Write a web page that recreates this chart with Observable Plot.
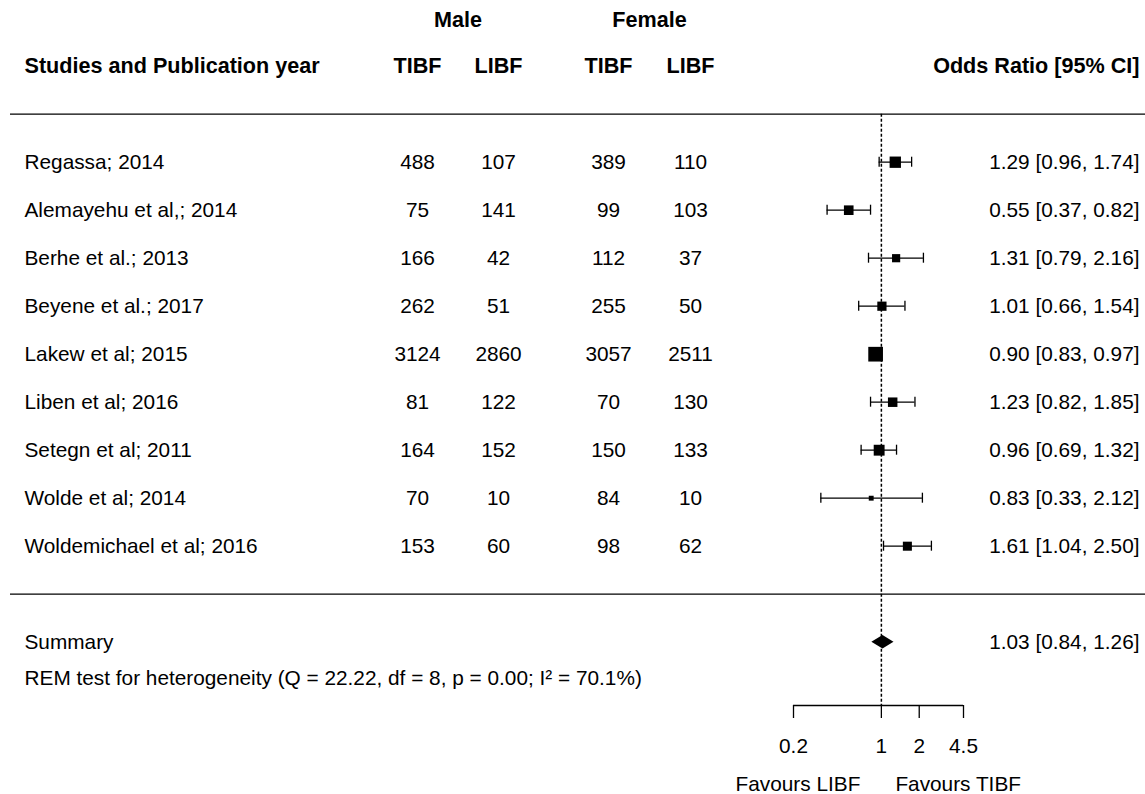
<!DOCTYPE html>
<html>
<head>
<meta charset="utf-8">
<script src="https://cdn.jsdelivr.net/npm/d3@7"></script>
<script src="https://cdn.jsdelivr.net/npm/@observablehq/plot@0.6"></script>
<style>
  html, body { margin: 0; padding: 0; background: #fff; }
  #chart svg { display: block; }
</style>
</head>
<body>
<div id="chart"></div>
<script>
// ---- data ----
const studies = ["Regassa; 2014", "Alemayehu et al,; 2014", "Berhe et al.; 2013", "Beyene et al.; 2017",
  "Lakew et al; 2015", "Liben et al; 2016", "Setegn et al; 2011", "Wolde et al; 2014", "Woldemichael et al; 2016"];
const maleTIBF   = [488, 75, 166, 262, 3124, 81, 164, 70, 153];
const maleLIBF   = [107, 141, 42, 51, 2860, 122, 152, 10, 60];
const femaleTIBF = [389, 99, 112, 255, 3057, 70, 150, 84, 98];
const femaleLIBF = [110, 103, 37, 50, 2511, 130, 133, 10, 62];
const oddsRatio  = [1.29, 0.55, 1.31, 1.01, 0.90, 1.23, 0.96, 0.83, 1.61];
const ciLower    = [0.96, 0.37, 0.79, 0.66, 0.83, 0.82, 0.69, 0.33, 1.04];
const ciUpper    = [1.74, 0.82, 2.16, 1.54, 0.97, 1.85, 1.32, 2.12, 2.50];
const weights    = [13.6, 11.0, 8.8, 10.4, 18.7, 10.8, 12.9, 3.8, 10.1]; // estimated RE weights (%)
const summary    = {label: "Summary", or: 1.03, lower: 0.84, upper: 1.26};
const hetText    = "REM test for heterogeneity (Q = 22.22, df = 8, p = 0.00; I² = 70.1%)";
const axisTicks  = [0.2, 1, 2, 4.5];
const groupHeaders  = ["Male", "Female"];
const columnHeaders = ["Studies and Publication year", "TIBF", "LIBF", "TIBF", "LIBF", "Odds Ratio [95% CI]"];
const favourLabels  = ["Favours LIBF", "Favours TIBF"];

// ---- layout ----
const W = 1145, H = 794;
const marginLeft = 793, marginRight = 182, marginBottom = 89;
const yDomain = [-2.319, 12.369];
const k = studies.length;
const colX = {study: 24, mT: 417, mL: 498, fT: 608, fL: 690, or: 1139};
const dxOf = (px) => px - marginLeft;
const fs = 20.8;
const fsBold = 21.6;
const fmt = (v) => v.toFixed(2);
const orLabel = (o, l, u) => `${fmt(o)} [${fmt(l)}, ${fmt(u)}]`;

const rows = studies.map((s, i) => ({
  row: k - i, study: s,
  mT: String(maleTIBF[i]), mL: String(maleLIBF[i]), fT: String(femaleTIBF[i]), fL: String(femaleLIBF[i]),
  or: oddsRatio[i], lo: ciLower[i], hi: ciUpper[i], w: weights[i],
  label: orLabel(oddsRatio[i], ciLower[i], ciUpper[i])
}));
const headerRow = k + 2;
const groupRow = k + 2.952;
const summaryRow = -1;
const hetRow = -1.745;
const dh = 0.14;
const diamond = [
  {y: summaryRow - dh, x1: summary.or, x2: summary.or},
  {y: summaryRow, x1: summary.lower, x2: summary.upper},
  {y: summaryRow + dh, x1: summary.or, x2: summary.or}
];

const textCol = (data, key, px, anchor, extra = {}) =>
  Plot.text(data, {y: "row", text: key, frameAnchor: "left", dx: dxOf(px), textAnchor: anchor,
    fontSize: fs, fill: "black", ...extra});
const bold = {fontWeight: "bold", fontSize: fsBold};

const headers = [{row: headerRow}];

const plot = Plot.plot({
  width: W, height: H,
  marginLeft, marginRight, marginTop: 0, marginBottom,
  style: {fontFamily: "'Liberation Sans', Arial, Helvetica, sans-serif", fontSize: fs + "px", color: "black", background: "white"},
  x: {type: "log", domain: [axisTicks[0], axisTicks[axisTicks.length - 1]], axis: null},
  y: {type: "linear", domain: yDomain, axis: null},
  r: {type: "linear", domain: [d3.min(weights), d3.max(weights)], range: [2.76, 8.29]},
  marks: [
    // horizontal separators
    Plot.ruleY([0, k + 1], {stroke: "black", strokeWidth: 1.3, insetLeft: -(marginLeft - 10), insetRight: -marginRight}),
    // reference line
    Plot.ruleX([1], {y1: k + 1, y2: yDomain[0], stroke: "black", strokeWidth: 1.5, strokeDasharray: "3,2"}),
    // CIs
    Plot.ruleY(rows, {y: "row", x1: "lo", x2: "hi", stroke: "black", strokeWidth: 1.3}),
    Plot.ruleX(rows, {x: "lo", y1: "row", y2: "row", insetTop: -5, insetBottom: -5, stroke: "black", strokeWidth: 1.3}),
    Plot.ruleX(rows, {x: "hi", y1: "row", y2: "row", insetTop: -5, insetBottom: -5, stroke: "black", strokeWidth: 1.3}),
    // squares
    Plot.dot(rows, {x: "or", y: "row", r: "w", symbol: "square", fill: "black", stroke: null}),
    // summary diamond
    Plot.areaX(diamond, {y: "y", x1: "x1", x2: "x2", fill: "black", curve: "linear"}),
    // axis
    Plot.ruleY([yDomain[0]], {x1: () => axisTicks[0], x2: () => axisTicks[axisTicks.length - 1], stroke: "black", strokeWidth: 1.3}),
    Plot.axisX({ticks: axisTicks, tickFormat: (d) => String(d), tickSize: 13, tickPadding: 20,
      stroke: "black", strokeWidth: 1.3, fontSize: fs, fill: "black"}),
    // favour labels
    Plot.text([favourLabels[0]], {x: () => 1, text: (d) => d, frameAnchor: "bottom", lineAnchor: "middle", dy: 79, dx: -21, textAnchor: "end", fontSize: fs, fill: "black"}),
    Plot.text([favourLabels[1]], {x: () => 1, text: (d) => d, frameAnchor: "bottom", lineAnchor: "middle", dy: 79, dx: 14, textAnchor: "start", fontSize: fs, fill: "black"}),
    // table columns
    textCol(rows, "study", colX.study, "start"),
    textCol(rows, "mT", colX.mT, "middle"),
    textCol(rows, "mL", colX.mL, "middle"),
    textCol(rows, "fT", colX.fT, "middle"),
    textCol(rows, "fL", colX.fL, "middle"),
    textCol(rows, "label", colX.or, "end"),
    // headers
    textCol(headers, () => columnHeaders[0], colX.study, "start", bold),
    textCol(headers, () => columnHeaders[1], colX.mT, "middle", bold),
    textCol(headers, () => columnHeaders[2], colX.mL, "middle", bold),
    textCol(headers, () => columnHeaders[3], colX.fT, "middle", bold),
    textCol(headers, () => columnHeaders[4], colX.fL, "middle", bold),
    textCol(headers, () => columnHeaders[5], colX.or, "end", bold),
    textCol([{row: groupRow}], () => groupHeaders[0], (colX.mT + colX.mL) / 2, "middle", bold),
    textCol([{row: groupRow}], () => groupHeaders[1], (colX.fT + colX.fL) / 2, "middle", bold),
    // summary
    textCol([{row: summaryRow}], () => summary.label, colX.study, "start"),
    textCol([{row: summaryRow}], () => orLabel(summary.or, summary.lower, summary.upper), colX.or, "end"),
    textCol([{row: hetRow}], () => hetText, colX.study, "start")
  ]
});
document.getElementById("chart").appendChild(plot);
</script>
</body>
</html>
